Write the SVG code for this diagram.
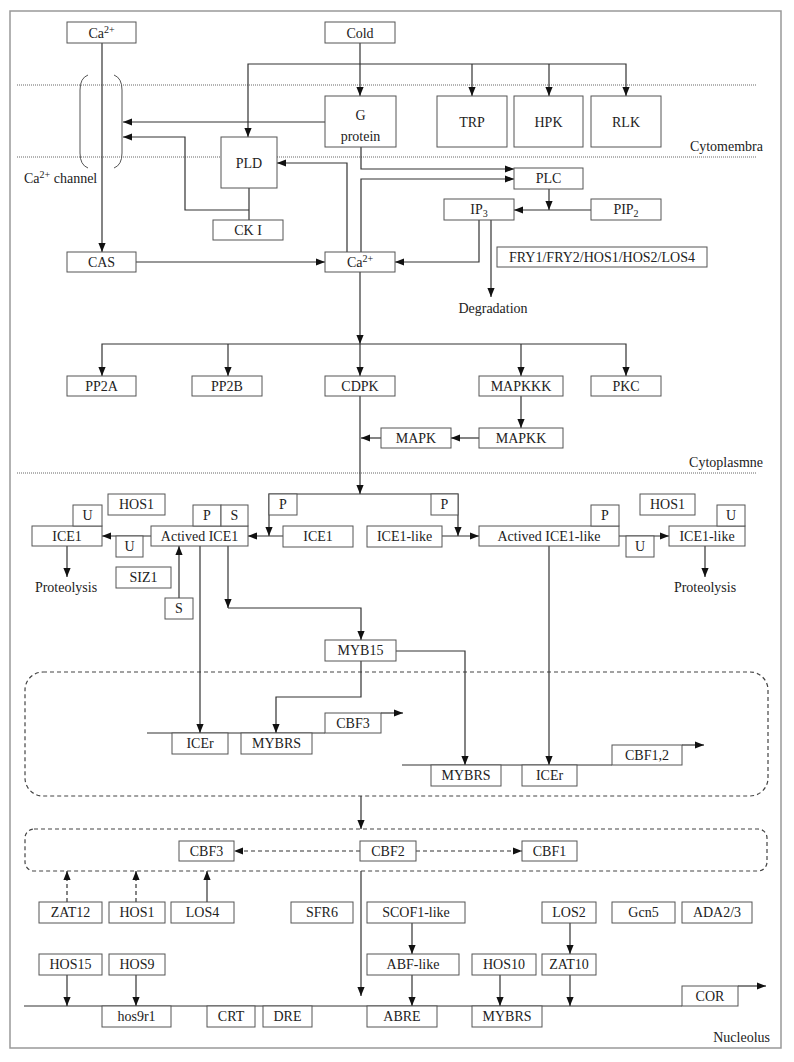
<svg xmlns="http://www.w3.org/2000/svg" width="794" height="1062" viewBox="0 0 794 1062">
<defs>
<style>
.b{fill:#fff;stroke:#555;stroke-width:1}
.t{font-family:"Liberation Serif","Times New Roman",serif;font-size:14px;fill:#222;text-anchor:middle}
.l{font-family:"Liberation Serif","Times New Roman",serif;font-size:14px;fill:#222}
.c{fill:none;stroke:#333;stroke-width:1.2}
.ca{fill:none;stroke:#333;stroke-width:1.2;marker-end:url(#a)}
.da{fill:none;stroke:#333;stroke-width:1.2;stroke-dasharray:4 3;marker-end:url(#a)}
.dot{fill:none;stroke:#666;stroke-width:1;stroke-dasharray:1 1}
.dash{fill:none;stroke:#444;stroke-width:1.2;stroke-dasharray:4 3}
</style>
<marker id="a" viewBox="0 0 10 10" refX="10" refY="5" markerWidth="9" markerHeight="9" orient="auto" markerUnits="userSpaceOnUse"><path d="M0,1 L10,5 L0,9 z" fill="#111"/></marker>
</defs>
<rect x="0" y="0" width="794" height="1062" fill="#fff"/>
<rect x="10" y="11" width="771" height="1037" fill="none" stroke="#999" stroke-width="1.5"/>

<g id="compartments">
<path class="dot" d="M17,85 H757 M17,157 H757 M17,473 H757"/>
<text class="l" x="763" y="151" text-anchor="end">Cytomembra</text>
<text class="l" x="763" y="467" text-anchor="end">Cytoplasmne</text>
<text class="l" x="770" y="1042" text-anchor="end">Nucleolus</text>
<rect class="dash" x="25" y="672" width="743" height="124" rx="18" ry="18"/>
<rect class="dash" x="25" y="829" width="742" height="42" rx="9" ry="9"/>
</g>

<g id="channel">
<path fill="none" stroke="#555" stroke-width="1" d="M88,75 Q80,78 80,90 V153 Q80,165 88,168 M114,75 Q122,78 122,90 V153 Q122,165 114,168"/>
<text class="l" x="24" y="183">Ca<tspan font-size="10" dy="-5">2+</tspan><tspan dy="5"> channel</tspan></text>
</g>

<g id="connectors">
<path class="ca" d="M102,43 V252"/>
<path class="ca" d="M360,43 V96"/>
<path class="ca" d="M360,64 H248 V137"/>
<path class="ca" d="M360,64 H626 V96"/>
<path class="ca" d="M472,64 V96"/>
<path class="ca" d="M549,64 V96"/>
<path class="ca" d="M325,122 H123"/>
<path class="c" d="M249,188 V220"/>
<path class="ca" d="M249,210 H185 V137 H123"/>
<path class="ca" d="M347,252 V163 H277"/>
<path class="ca" d="M361,147 V169 H514"/>
<path class="ca" d="M361,252 V179 H514"/>
<path class="ca" d="M549,189 V210"/>
<path class="ca" d="M591,210 H514"/>
<path class="ca" d="M479,220 V262 H395"/>
<path class="ca" d="M491,220 V297"/>
<path class="ca" d="M136,262 H325"/>
<path class="ca" d="M360,272 V344"/>
<path class="ca" d="M360,344 V376"/>
<path class="ca" d="M360,344 H102 V376"/>
<path class="ca" d="M228,344 V376"/>
<path class="ca" d="M360,344 H626 V376"/>
<path class="ca" d="M521,344 V376"/>
<path class="ca" d="M521,396 V428"/>
<path class="ca" d="M479,438 H451"/>
<path class="ca" d="M381,438 H361"/>
<path class="ca" d="M360,396 V494"/>
<path class="ca" d="M360,494 H269 V536"/>
<path class="ca" d="M360,494 H458 V536"/>
<path class="ca" d="M283,536 H248"/>
<path class="ca" d="M442,536 H479"/>
<path class="ca" d="M151,536 H102"/>
<path class="ca" d="M619,536 H669"/>
<path class="ca" d="M67,546 V577"/>
<path class="ca" d="M705,546 V577"/>
<path class="ca" d="M179,598 V546"/>
<path class="ca" d="M200,546 V733"/>
<path class="ca" d="M228,546 V608"/>
<path class="ca" d="M228,608 H361 V640"/>
<path class="ca" d="M361,661 V697 H276 V733"/>
<path class="ca" d="M396,651 H465 V765"/>
<path class="ca" d="M549,546 V765"/>
<path class="c" d="M147,733 H325 M402,765 H612 M24,1006 H682"/>
<path class="ca" d="M381,713 H403"/>
<path class="ca" d="M682,745 H704"/>
<path class="ca" d="M738,986 H766"/>
<path class="ca" d="M361,796 V829"/>
<path class="da" d="M360,851 H234"/>
<path class="da" d="M416,851 H522"/>
<path class="ca" d="M361,871 V996"/>
<path class="da" d="M67,902 V871"/>
<path class="da" d="M136,902 V871"/>
<path class="ca" d="M207,902 V871"/>
<path class="ca" d="M67,975 V1006"/>
<path class="ca" d="M136,975 V1006"/>
<path class="ca" d="M412,923 V954"/>
<path class="ca" d="M412,975 V1006"/>
<path class="ca" d="M500,975 V1006"/>
<path class="ca" d="M570,923 V954"/>
<path class="ca" d="M570,975 V1006"/>
</g>

<g id="n-ca-top"><rect class="b" x="67" y="22" width="69" height="21"/><text class="t" x="101.5" y="37.5">Ca<tspan font-size="10" dy="-5">2+</tspan></text></g>
<g id="n-cold"><rect class="b" x="325" y="22" width="70" height="21"/><text class="t" x="360" y="37.5">Cold</text></g>
<g id="n-gprotein"><rect class="b" x="325" y="96" width="71" height="51"/><text class="t" x="360.5" y="120">G</text><text class="t" x="360.5" y="141">protein</text></g>
<g id="n-trp"><rect class="b" x="437" y="96" width="70" height="51"/><text class="t" x="472" y="127">TRP</text></g>
<g id="n-hpk"><rect class="b" x="514" y="96" width="69" height="51"/><text class="t" x="548.5" y="127">HPK</text></g>
<g id="n-rlk"><rect class="b" x="591" y="96" width="70" height="51"/><text class="t" x="626" y="127">RLK</text></g>
<g id="n-pld"><rect class="b" x="221" y="137" width="56" height="51"/><text class="t" x="249" y="168">PLD</text></g>
<g id="n-cki"><rect class="b" x="213" y="220" width="70" height="20"/><text class="t" x="248" y="235">CK I</text></g>
<g id="n-plc"><rect class="b" x="514" y="168" width="69" height="21"/><text class="t" x="548.5" y="183">PLC</text></g>
<g id="n-ip3"><rect class="b" x="444" y="199" width="70" height="21"/><text class="t" x="479" y="214">IP<tspan font-size="10" dy="3">3</tspan></text></g>
<g id="n-pip2"><rect class="b" x="591" y="199" width="70" height="21"/><text class="t" x="626" y="214">PIP<tspan font-size="10" dy="3">2</tspan></text></g>
<g id="n-fry"><rect class="b" x="497" y="247" width="210" height="20"/><text class="t" x="602" y="262">FRY1/FRY2/HOS1/HOS2/LOS4</text></g>
<g id="n-cas"><rect class="b" x="67" y="252" width="69" height="20"/><text class="t" x="101.5" y="267">CAS</text></g>
<g id="n-ca-mid"><rect class="b" x="325" y="252" width="70" height="20"/><text class="t" x="360" y="267">Ca<tspan font-size="10" dy="-5">2+</tspan></text></g>
<g id="n-degradation"><text class="t" x="493" y="313">Degradation</text></g>
<g id="n-pp2a"><rect class="b" x="67" y="376" width="69" height="20"/><text class="t" x="101.5" y="391">PP2A</text></g>
<g id="n-pp2b"><rect class="b" x="192" y="376" width="70" height="20"/><text class="t" x="227" y="391">PP2B</text></g>
<g id="n-cdpk"><rect class="b" x="325" y="376" width="70" height="20"/><text class="t" x="360" y="391">CDPK</text></g>
<g id="n-mapkkk"><rect class="b" x="479" y="376" width="84" height="20"/><text class="t" x="521" y="391">MAPKKK</text></g>
<g id="n-pkc"><rect class="b" x="591" y="376" width="70" height="20"/><text class="t" x="626" y="391">PKC</text></g>
<g id="n-mapkk"><rect class="b" x="479" y="428" width="84" height="20"/><text class="t" x="521" y="443">MAPKK</text></g>
<g id="n-mapk"><rect class="b" x="381" y="428" width="70" height="20"/><text class="t" x="416" y="443">MAPK</text></g>

<g id="n-p-left"><rect class="b" x="269" y="494" width="28" height="21"/><text class="t" x="283" y="509">P</text></g>
<g id="n-p-right"><rect class="b" x="431" y="494" width="27" height="21"/><text class="t" x="444.5" y="509">P</text></g>
<g id="n-ice1-mid"><rect class="b" x="283" y="526" width="70" height="21"/><text class="t" x="318" y="541">ICE1</text></g>
<g id="n-ice1like-mid"><rect class="b" x="367" y="526" width="75" height="21"/><text class="t" x="404.5" y="541">ICE1-like</text></g>
<g id="n-actived-ice1"><rect class="b" x="151" y="526" width="97" height="20"/><text class="t" x="199.5" y="541">Actived ICE1</text><rect class="b" x="193" y="505" width="28" height="21"/><text class="t" x="207" y="520">P</text><rect class="b" x="221" y="505" width="27" height="21"/><text class="t" x="234.5" y="520">S</text></g>
<g id="n-ice1-left"><rect class="b" x="32" y="526" width="70" height="20"/><text class="t" x="67" y="541">ICE1</text><rect class="b" x="73" y="505" width="29" height="21"/><text class="t" x="87.5" y="520">U</text></g>
<g id="n-hos1-left"><rect class="b" x="108" y="494" width="57" height="21"/><text class="t" x="136.5" y="509">HOS1</text></g>
<g id="n-u-left"><rect class="b" x="116" y="536" width="27" height="21"/><text class="t" x="129.5" y="551">U</text></g>
<g id="n-proteolysis-left"><text class="t" x="66" y="592">Proteolysis</text></g>
<g id="n-siz1"><rect class="b" x="116" y="567" width="55" height="21"/><text class="t" x="143.5" y="582">SIZ1</text></g>
<g id="n-s"><rect class="b" x="165" y="598" width="28" height="21"/><text class="t" x="179" y="613">S</text></g>
<g id="n-actived-ice1like"><rect class="b" x="479" y="526" width="140" height="20"/><text class="t" x="549" y="541">Actived ICE1-like</text><rect class="b" x="591" y="505" width="28" height="21"/><text class="t" x="605" y="520">P</text></g>
<g id="n-ice1like-right"><rect class="b" x="669" y="526" width="76" height="20"/><text class="t" x="707" y="541">ICE1-like</text><rect class="b" x="717" y="505" width="28" height="21"/><text class="t" x="731" y="520">U</text></g>
<g id="n-hos1-right"><rect class="b" x="640" y="494" width="55" height="21"/><text class="t" x="667.5" y="509">HOS1</text></g>
<g id="n-u-right"><rect class="b" x="626" y="536" width="28" height="21"/><text class="t" x="640" y="551">U</text></g>
<g id="n-proteolysis-right"><text class="t" x="705" y="592">Proteolysis</text></g>
<g id="n-myb15"><rect class="b" x="325" y="640" width="71" height="21"/><text class="t" x="360.5" y="655">MYB15</text></g>
<g id="n-cbf3-gene"><rect class="b" x="325" y="713" width="56" height="20"/><text class="t" x="353" y="728">CBF3</text></g>
<g id="n-icer1"><rect class="b" x="172" y="733" width="56" height="21"/><text class="t" x="200" y="748">ICEr</text></g>
<g id="n-mybrs1"><rect class="b" x="241" y="733" width="71" height="21"/><text class="t" x="276.5" y="748">MYBRS</text></g>
<g id="n-mybrs2"><rect class="b" x="431" y="765" width="70" height="21"/><text class="t" x="466" y="780">MYBRS</text></g>
<g id="n-icer2"><rect class="b" x="522" y="765" width="55" height="21"/><text class="t" x="549.5" y="780">ICEr</text></g>
<g id="n-cbf12"><rect class="b" x="612" y="745" width="70" height="20"/><text class="t" x="647" y="760">CBF1,2</text></g>

<g id="n-cbf3"><rect class="b" x="179" y="841" width="55" height="20"/><text class="t" x="206.5" y="856">CBF3</text></g>
<g id="n-cbf2"><rect class="b" x="360" y="841" width="56" height="20"/><text class="t" x="388" y="856">CBF2</text></g>
<g id="n-cbf1"><rect class="b" x="522" y="841" width="55" height="20"/><text class="t" x="549.5" y="856">CBF1</text></g>
<g id="n-zat12"><rect class="b" x="39" y="902" width="63" height="21"/><text class="t" x="70.5" y="917">ZAT12</text></g>
<g id="n-hos1-bottom"><rect class="b" x="109" y="902" width="56" height="21"/><text class="t" x="137" y="917">HOS1</text></g>
<g id="n-los4"><rect class="b" x="171" y="902" width="63" height="21"/><text class="t" x="202.5" y="917">LOS4</text></g>
<g id="n-sfr6"><rect class="b" x="291" y="902" width="62" height="21"/><text class="t" x="322" y="917">SFR6</text></g>
<g id="n-scof1"><rect class="b" x="367" y="902" width="98" height="21"/><text class="t" x="416" y="917">SCOF1-like</text></g>
<g id="n-los2"><rect class="b" x="542" y="902" width="54" height="21"/><text class="t" x="569" y="917">LOS2</text></g>
<g id="n-gcn5"><rect class="b" x="612" y="902" width="63" height="21"/><text class="t" x="643.5" y="917">Gcn5</text></g>
<g id="n-ada23"><rect class="b" x="682" y="902" width="70" height="21"/><text class="t" x="717" y="917">ADA2/3</text></g>
<g id="n-hos15"><rect class="b" x="39" y="954" width="63" height="21"/><text class="t" x="70.5" y="969">HOS15</text></g>
<g id="n-hos9"><rect class="b" x="109" y="954" width="56" height="21"/><text class="t" x="137" y="969">HOS9</text></g>
<g id="n-abf"><rect class="b" x="367" y="954" width="92" height="21"/><text class="t" x="413" y="969">ABF-like</text></g>
<g id="n-hos10"><rect class="b" x="472" y="954" width="64" height="21"/><text class="t" x="504" y="969">HOS10</text></g>
<g id="n-zat10"><rect class="b" x="542" y="954" width="54" height="21"/><text class="t" x="569" y="969">ZAT10</text></g>
<g id="n-cor"><rect class="b" x="682" y="986" width="56" height="20"/><text class="t" x="710" y="1001">COR</text></g>
<g id="n-hos9r1"><rect class="b" x="102" y="1006" width="69" height="21"/><text class="t" x="136.5" y="1021">hos9r1</text></g>
<g id="n-crt"><rect class="b" x="207" y="1006" width="48" height="21"/><text class="t" x="231" y="1021">CRT</text></g>
<g id="n-dre"><rect class="b" x="263" y="1006" width="49" height="21"/><text class="t" x="287.5" y="1021">DRE</text></g>
<g id="n-abre"><rect class="b" x="367" y="1006" width="70" height="21"/><text class="t" x="402" y="1021">ABRE</text></g>
<g id="n-mybrs3"><rect class="b" x="472" y="1006" width="70" height="21"/><text class="t" x="507" y="1021">MYBRS</text></g>
</svg>
